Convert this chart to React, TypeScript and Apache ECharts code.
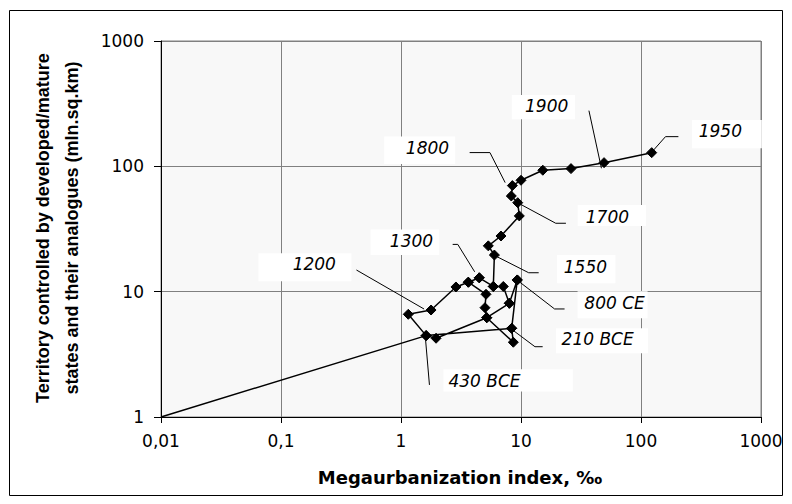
import React, { useEffect, useRef } from "react";
import * as echarts from "echarts";

// Path of the series, in drawing order (some points are revisited by the line)
const megaurbanization = [
  0.01, 1.62, 1.15, 1.78, 2.87, 3.64, 5.11, 5.01, 5.18, 1.96, 1.62, 8.36, 8.63,
  5.18, 7.99, 9.31, 8.36, 9.31, 7.99, 7.12, 5.88, 4.49, 3.64, 4.49, 5.88, 6.0,
  5.34, 6.81, 9.68, 9.39, 8.3, 8.47, 10.0, 15.2, 26.1, 49.2, 122.8,
];
const territory = [
  1, 4.46, 6.6, 7.14, 10.9, 11.9, 9.53, 7.45, 6.2, 4.25, 4.46, 5.1, 3.95, 6.2,
  8.08, 12.4, 5.1, 12.4, 8.08, 11.0, 11.0, 12.9, 11.9, 12.9, 11.0, 19.6, 23.2,
  27.8, 40.2, 51.3, 58.0, 70.2, 77.4, 93.1, 95.9, 107, 128.6,
];
const markerlessPoints = [0];

const labelTexts = ["1950", "1900", "1800", "1700", "1550", "1300", "1200", "800 CE", "210 BCE", "430 BCE"];
const labelPointIndex = [36, 35, 31, 29, 25, 21, 3, 15, 11, 1];

const xTickLabels = ["0,01", "0,1", "1", "10", "100", "1000"];
const yTickLabels = ["1", "10", "100", "1000"];

const xTitle = "Megaurbanization index, ‰";
const yTitle = "Territory controlled by developed/mature\nstates and their analogues (mln.sq.km)";

// label layout, relative to the point's pixel position: text centre, box, leader points
const LABEL_LAYOUT: { t: [number, number]; b: [number, number, number, number]; l: [number, number][] }[] = [
  { t: [68.6, -21.7], b: [40.2, -32.7, 69.9, 28.3], l: [[26.7, -16], [13.8, -16], [2, -2.7]] },
  { t: [-57.4, -56.7], b: [-92.2, -67.7, 63.2, 24.3], l: [[-15.1, -52], [-2.6, 5.6]] },
  { t: [-84.9, -37.4], b: [-128.2, -49, 71, 27.3], l: [[-42.7, -33], [-22.4, -33], [-7.2, -3]] },
  { t: [89.7, 14], b: [60, 2.3, 68.3, 21], l: [[48.2, 20.6], [38, 20.6], [0.9, 0.6]] },
  { t: [91, 11.7], b: [62.7, 0, 58.3, 28.3], l: [[44.3, 17.7], [34.3, 17.7], [-4, -1.7]] },
  { t: [-67.8, -37], b: [-108.7, -48.4, 68.6, 25.7], l: [[-26.6, -33.4], [-21.5, -33.4], [-4.6, -6]] },
  { t: [-116.8, -46], b: [-172.6, -56.7, 93, 28], l: [[-74.6, -40], [-7, -1]] },
  { t: [97.3, 23.4], b: [60.3, 11.4, 70, 27], l: [[47.3, 29], [37.3, 29], [0.6, 0.7]] },
  { t: [86, 10.7], b: [44.3, 0, 92, 25], l: [[31, 18.4], [23.3, 18.4], [1, 1.7]] },
  { t: [58.3, 45], b: [17.3, 33.6, 129.4, 22.4], l: [[3.3, 49.3], [-1, -0.7]] },
];

export default function App() {
  const ref = useRef<HTMLDivElement>(null);
  useEffect(() => {
    if (!ref.current) return;
    const chart = echarts.init(ref.current, undefined, { renderer: "svg" });
    const data = megaurbanization.map((x, i) => ({
      value: [x, territory[i]],
      symbol: markerlessPoints.includes(i) ? "none" : "diamond",
    }));
    chart.setOption({
      animation: false,
      backgroundColor: "#ffffff",
      grid: {
        left: 161,
        right: 31,
        top: 41,
        bottom: 87,
        show: true,
        backgroundColor: "#f8f8f8",
        borderColor: "#808080",
        borderWidth: 1,
      },
      xAxis: {
        type: "log",
        logBase: 10,
        min: 0.01,
        max: 1000,
        axisLine: { show: true, onZero: false, lineStyle: { color: "#000", width: 1 } },
        axisTick: { show: true, length: 6, lineStyle: { color: "#000" } },
        splitLine: { show: true, lineStyle: { color: "#808080", width: 1 } },
        axisLabel: {
          formatter: (v: number) => xTickLabels[Math.round(Math.log10(v)) + 2],
          fontFamily: "DejaVu Sans",
          fontSize: 17,
          color: "#000",
          margin: 15,
          showMinLabel: true,
          showMaxLabel: true,
        },
      },
      yAxis: {
        type: "log",
        logBase: 10,
        min: 1,
        max: 1000,
        axisLine: { show: true, onZero: false, lineStyle: { color: "#000", width: 1 } },
        axisTick: { show: true, length: 7, lineStyle: { color: "#000" } },
        splitLine: { show: true, lineStyle: { color: "#808080", width: 1 } },
        axisLabel: {
          formatter: (v: number) => yTickLabels[Math.round(Math.log10(v))],
          fontFamily: "DejaVu Sans",
          fontSize: 17,
          color: "#000",
          margin: 17,
          showMinLabel: true,
          showMaxLabel: true,
        },
      },
      series: [
        {
          type: "line",
          data,
          symbolSize: 10,
          showSymbol: true,
          clip: false,
          itemStyle: { color: "#000", borderColor: "#000" },
          lineStyle: { color: "#000", width: 1.5 },
          z: 3,
        },
      ],
    });

    const graphics: any[] = [
      {
        type: "rect",
        silent: true,
        shape: { x: 9.5, y: 10.5, width: 773, height: 485 },
        style: { fill: "transparent", stroke: "#000", lineWidth: 1 },
        z: 1,
      },
      {
        type: "text",
        x: 57,
        y: 228,
        rotation: Math.PI / 2,
        style: {
          text: yTitle,
          fontFamily: "Liberation Sans",
          fontWeight: "bold",
          fontSize: 18,
          lineHeight: 29,
          fill: "#000",
          align: "center",
          verticalAlign: "middle",
          textAlign: "center",
          textVerticalAlign: "middle",
        },
        z: 5,
      },
      {
        type: "text",
        x: 460,
        y: 477,
        style: {
          text: xTitle,
          fontFamily: "DejaVu Sans",
          fontWeight: "bold",
          fontSize: 18,
          fill: "#000",
          align: "center",
          verticalAlign: "middle",
          textAlign: "center",
          textVerticalAlign: "middle",
        },
        z: 5,
      },
    ];

    labelTexts.forEach((txt, k) => {
      const idx = labelPointIndex[k];
      const p = chart.convertToPixel({ xAxisIndex: 0, yAxisIndex: 0 }, [megaurbanization[idx], territory[idx]]) as number[];
      const L = LABEL_LAYOUT[k];
      graphics.push({
        type: "rect",
        silent: true,
        shape: { x: p[0] + L.b[0], y: p[1] + L.b[1], width: L.b[2], height: L.b[3] },
        style: { fill: "#ffffff", stroke: null },
        z: 10,
      });
      graphics.push({
        type: "text",
        silent: true,
        x: p[0] + L.t[0],
        y: p[1] + L.t[1],
        style: {
          text: txt,
          fontFamily: "DejaVu Sans",
          fontStyle: "italic",
          fontSize: 17,
          fill: "#000",
          align: "center",
          verticalAlign: "middle",
          textAlign: "center",
          textVerticalAlign: "middle",
        },
        z: 11,
      });
      graphics.push({
        type: "polyline",
        silent: true,
        shape: { points: L.l.map(([dx, dy]) => [p[0] + dx, p[1] + dy]) },
        style: { stroke: "#000", lineWidth: 1, fill: null },
        z: 11,
      });
    });

    chart.setOption({ graphic: graphics });
    return () => chart.dispose();
  }, []);
  return (
    <div
      ref={ref}
      style={{ position: "absolute", left: 0, top: 0, width: 792, height: 504, background: "#fff" }}
    />
  );
}
